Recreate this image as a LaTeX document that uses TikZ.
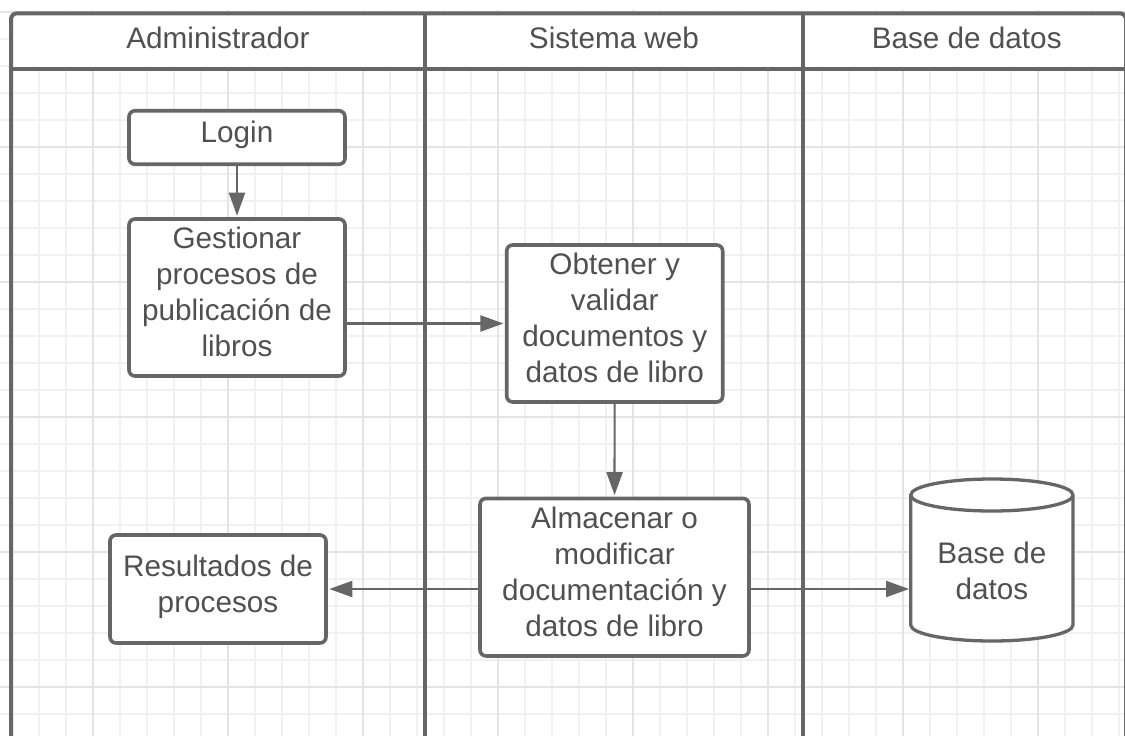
\documentclass[tikz,border=0pt]{standalone}
\usepackage{fontspec}
\setmainfont{Liberation Sans}
\usetikzlibrary{arrows.meta}
\definecolor{ink}{HTML}{666666}
\definecolor{txt}{HTML}{505050}
\definecolor{gridminor}{HTML}{F1F1F1}
\definecolor{gridmajor}{HTML}{E4E4E4}
\newcommand\lstrut{\rule[-11pt]{0pt}{25pt}}
\tikzset{
  basefont/.style={font=\fontsize{29.7}{36}\selectfont, text=txt},
  stepbox/.style={basefont, draw=ink, fill=white, line width=3.6pt, rounded corners=6pt,
    align=center, inner sep=0pt, execute at begin node=\lstrut, execute at end node=\lstrut},
  dbtext/.style={basefont, inner sep=0pt, align=center, minimum width=162.3pt, minimum height=100pt,
    execute at begin node=\lstrut, execute at end node=\lstrut},
  flow/.style={draw=ink, line width=2.2pt, -{Triangle[length=23pt,width=16pt]}, shorten >=1.5pt},
  lane/.style={draw=ink, line width=4pt},
  lanetitle/.style={basefont, anchor=base, inner sep=0pt},
  gridm/.style={draw=gridminor, line width=1.6pt},
  gridM/.style={draw=gridmajor, line width=1.6pt}
}
\begin{document}
\begin{tikzpicture}[x=1pt,y=-1pt]
\useasboundingbox (0,0) rectangle (1125,736);
\clip (0,0) rectangle (1125,736);
\fill[white] (0,0) rectangle (1125,736);
% grid
\foreach \i in {0,...,41} {
  \pgfmathsetmacro\xx{11.7+27*\i}
  \draw[gridm] (\xx,10) -- (\xx,736);
}
\foreach \i in {0,...,26} {
  \pgfmathsetmacro\yy{12+27*\i}
  \draw[gridm] (0,\yy) -- (1125,\yy);
}
\foreach \xx in {92.7,227.7,362.7,497.7,632.7,767.7,902.7,1037.7}
  \draw[gridM] (\xx,10) -- (\xx,736);
\foreach \yy in {12,147,282,417,552,687}
  \draw[gridM] (0,\yy) -- (1125,\yy);
% swimlanes
\fill[white, rounded corners=6pt] (11,69.3) -- (11,13.3) -- (1126,13.3) -- (1126,69.3) -- cycle;
\draw[lane, rounded corners=6pt] (11,736) -- (11,13.3) -- (1126,13.3) -- (1126,736);
\draw[lane] (11,69.3) -- (1125,69.3);
\draw[lane] (425.3,13.3) -- (425.3,736);
\draw[lane] (803.3,13.3) -- (803.3,736);
\node[lanetitle] (t1) at (218,48.3) {Administrador};
\node[lanetitle] (t2) at (614,48.3) {Sistema web};
\node[lanetitle] (t3) at (966.7,48.3) {Base de datos};
% steps
\node[stepbox, minimum width=216pt, minimum height=53.5pt] (login) at (237,137.5) {Login};
\node[stepbox, minimum width=216pt, minimum height=157pt] (gest) at (237,297.5) {Gestionar\\procesos de\\publicación de\\libros};
\node[stepbox, minimum width=216pt, minimum height=157pt] (obt) at (614.7,323.5) {Obtener y\\validar\\documentos y\\datos de libro};
\node[stepbox, minimum width=269pt, minimum height=157.5pt] (alm) at (614.5,577.2) {Almacenar o\\modificar\\documentación y\\datos de libro};
\node[stepbox, minimum width=216pt, minimum height=108pt] (res) at (218,589) {Resultados de\\procesos};
% database
\draw[draw=ink, fill=white, line width=3.3pt]
  (910.7,495) -- (910.7,625) .. controls (910.7,633.8) and (947,641) .. (991.9,641)
  .. controls (1036.8,641) and (1073,633.8) .. (1073,625) -- (1073,495)
  .. controls (1073,486.2) and (1036.8,479) .. (991.9,479)
  .. controls (947,479) and (910.7,486.2) .. (910.7,495) -- cycle;
\draw[draw=ink, line width=3.3pt] (910.7,495) .. controls (910.7,503.8) and (947,511) .. (991.9,511)
  .. controls (1036.8,511) and (1073,503.8) .. (1073,495);
\node[dbtext] (db) at (991.9,576) {Base de\\datos};
% connectors
\draw[flow] (login) -- (gest);
\draw[flow] (gest.east |- obt.west) -- (obt.west);
\draw[flow] (obt) -- (alm);
\draw[flow] (alm.west |- res.east) -- (res.east);
\draw[flow] (alm.east |- res.east) -- (db.west |- res.east);
\end{tikzpicture}
\end{document}
